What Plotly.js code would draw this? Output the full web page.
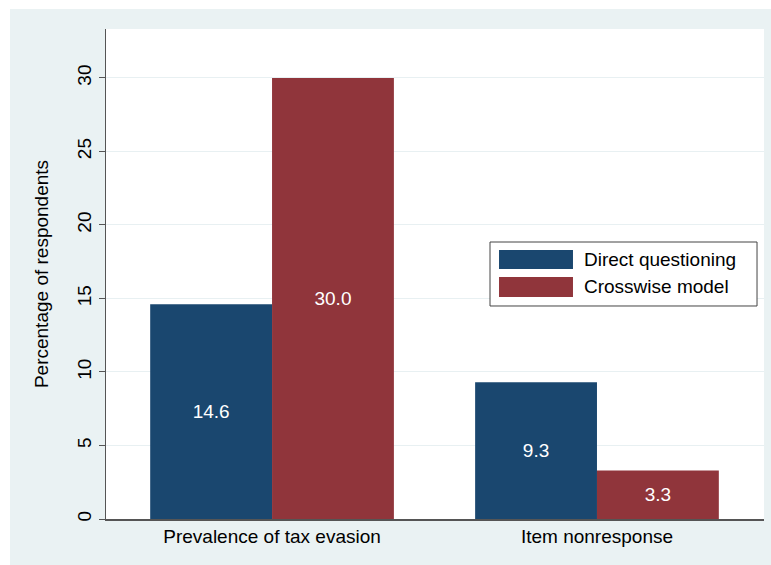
<!DOCTYPE html>
<html>
<head>
<meta charset="utf-8">
<script src="https://cdn.plot.ly/plotly-3.0.1.min.js"></script>
<style>
  html, body { margin: 0; padding: 0; background: #ffffff; }
  #chart { position: absolute; left: 10px; top: 9px; width: 761px; height: 556px; }
</style>
</head>
<body>
<div id="chart"></div>
<script>
const categories = ["Prevalence of tax evasion", "Item nonresponse"];
const seriesNames = ["Direct questioning", "Crosswise model"];
const directValues = [14.6, 9.3];
const crosswiseValues = [30.0, 3.3];
const yTickValues = [0, 5, 10, 15, 20, 25, 30];
const colors = ["#1a476f", "#90353b"];

const fontFam = "Liberation Sans, Arial, Helvetica, sans-serif";
const FS = 19;

const traces = [directValues, crosswiseValues].map((vals, i) => ({
  type: "bar",
  x: categories,
  y: vals,
  name: seriesNames[i],
  marker: { color: colors[i], line: { width: 0 } },
  text: vals.map(v => v.toFixed(1)),
  textposition: "inside",
  insidetextanchor: "middle",
  textangle: 0,
  textfont: { color: "#ffffff", size: FS, family: fontFam },
  hoverinfo: "none",
  showlegend: false
}));

// custom legend (Stata style: wide swatches)
const legendBox = { x0: 0.5836, x1: 0.9894, y0: 0.4347, y1: 0.5653 };
const swatchX = [0.5973, 0.7097];
const swatchY = [[0.5102, 0.549], [0.4531, 0.4939]];
const shapes = [{
  type: "rect", xref: "paper", yref: "paper",
  x0: legendBox.x0, x1: legendBox.x1, y0: legendBox.y0, y1: legendBox.y1,
  fillcolor: "#ffffff", line: { color: "#444444", width: 1 }, layer: "above"
}];
const annotations = [];
seriesNames.forEach((nm, i) => {
  shapes.push({
    type: "rect", xref: "paper", yref: "paper",
    x0: swatchX[0], x1: swatchX[1], y0: swatchY[i][0], y1: swatchY[i][1],
    fillcolor: colors[i], line: { width: 0 }, layer: "above"
  });
  annotations.push({
    xref: "paper", yref: "paper",
    x: 0.724, y: (swatchY[i][0] + swatchY[i][1]) / 2,
    xanchor: "left", yanchor: "middle",
    text: nm, showarrow: false,
    font: { size: FS, color: "#000000", family: fontFam }
  });
});

const layout = {
  width: 761, height: 556,
  paper_bgcolor: "#eaf2f3",
  plot_bgcolor: "#ffffff",
  margin: { l: 96, r: 7, t: 20, b: 46, pad: 0 },
  barmode: "group",
  bargap: 0.25,
  bargroupgap: 0,
  showlegend: false,
  font: { family: fontFam, size: FS, color: "#000000" },
  xaxis: {
    type: "category",
    range: [-0.511, 1.514],
    showline: true, linecolor: "#555555", linewidth: 1.5,
    showgrid: false, ticks: "", zeroline: false,
    tickfont: { size: FS, family: fontFam, color: "#000000" },
    fixedrange: true
  },
  yaxis: {
    range: [0, 33.33],
    tickvals: yTickValues,
    ticktext: yTickValues.map(String),
    tickangle: -90,
    ticks: "outside", ticklen: 6, tickcolor: "#555555", tickwidth: 1,
    showline: true, linecolor: "#555555", linewidth: 1.5,
    showgrid: true, gridcolor: "#e8f0f2", gridwidth: 1,
    zeroline: false,
    tickfont: { size: FS, family: fontFam, color: "#000000" },
    title: { text: "Percentage of respondents", font: { size: FS, family: fontFam, color: "#000000" }, standoff: 20 },
    automargin: false,
    fixedrange: true
  },
  shapes: shapes,
  annotations: annotations
};

Plotly.newPlot("chart", traces, layout, { displayModeBar: false, staticPlot: true });
</script>
</body>
</html>
